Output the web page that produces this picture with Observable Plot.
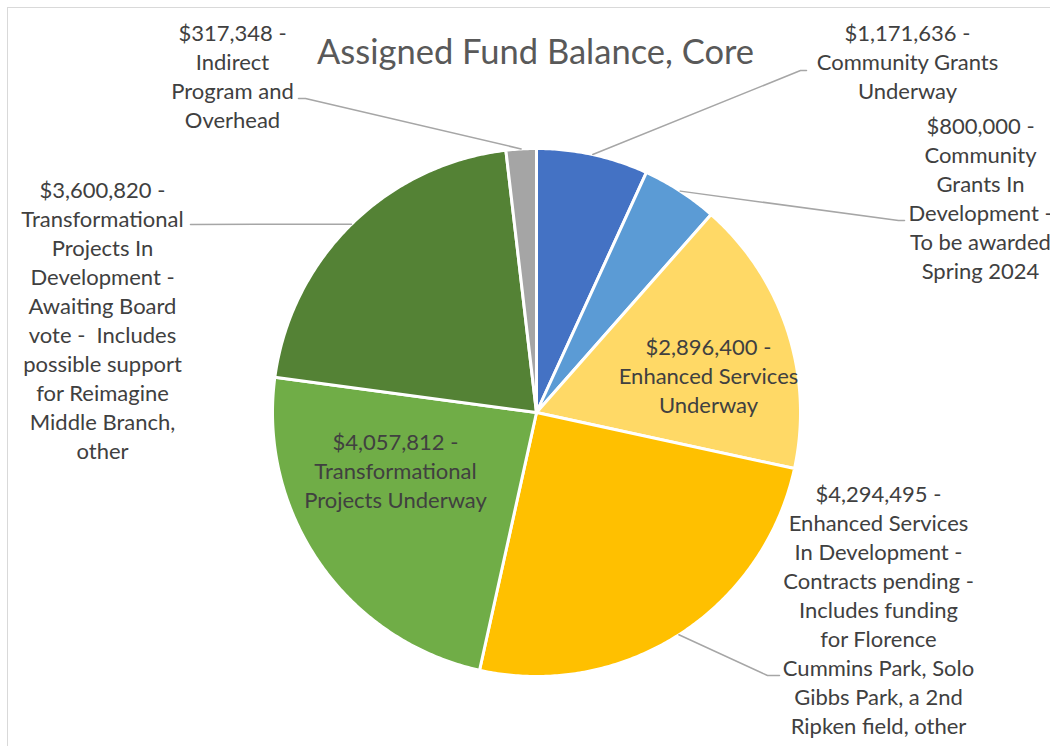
<!DOCTYPE html>
<html><head><meta charset="utf-8">
<script src="https://cdn.jsdelivr.net/npm/d3@7"></script>
<script src="https://cdn.jsdelivr.net/npm/@observablehq/plot@0.6"></script>
<style>
html,body{margin:0;padding:0;background:#fff;overflow:hidden}
#frame{position:absolute;left:7px;top:7px;width:1100px;height:800px;border:1.5px solid #d9d9d9;box-sizing:border-box}
#chart{position:absolute;left:0;top:0}
</style></head><body>
<div id="frame"></div><div id="chart"></div>
<script>
// ---- data ----
const title = "Assigned Fund Balance, Core";
const categories = [
  "Community Grants\nUnderway",
  "Community\nGrants In\nDevelopment -\nTo be awarded\nSpring 2024",
  "Enhanced Services\nUnderway",
  "Enhanced Services\nIn Development -\nContracts pending -\nIncludes funding\nfor Florence\nCummins Park, Solo\nGibbs Park, a 2nd\nRipken field, other",
  "Transformational\nProjects Underway",
  "Transformational\nProjects In\nDevelopment -\nAwaiting Board\nvote -  Includes\npossible support\nfor Reimagine\nMiddle Branch,\nother",
  "Indirect\nProgram and\nOverhead"
];
const values = [1171636, 800000, 2896400, 4294495, 4057812, 3600820, 317348];
const colors = ["#4472C4", "#5B9BD5", "#FFD966", "#FFC000", "#70AD47", "#548235", "#A5A5A5"];

// ---- layout ----
const W = 1050, H = 746;
const cx = 536, cy = 412, R = 264;
const FONT = "Lato, 'Open Sans', sans-serif";
const FS = 22, LH = 29;
const labelPos = [[907, 60], [980, 197], [708, 374], [878, 608], [395, 469], [102, 319], [232, 74.5]];
const leaderPts = [
  [[800, 70], [806, 70]],
  [[898, 220], [904, 220]],
  null,
  [[767, 675], [779, 675]],
  null,
  [[190, 224]],
  [[305, 98], [298, 98]]
];

const fmt = d3.format("$,");
const arcs = d3.pie().sort(null).value(d => d)(values);
const pt = (a, r) => [cx + r * Math.sin(a), cy - r * Math.cos(a)];

const polys = [];
arcs.forEach((a, i) => {
  polys.push({i, x: cx, y: cy, c: colors[i]});
  const n = Math.max(2, Math.ceil((a.endAngle - a.startAngle) / (Math.PI / 360)));
  for (let k = 0; k <= n; k++) {
    const ang = a.startAngle + (a.endAngle - a.startAngle) * k / n;
    const [x, y] = pt(ang, R);
    polys.push({i, x, y, c: colors[i]});
  }
  polys.push({i, x: cx, y: cy, c: colors[i]});
});

const leaders = [];
arcs.forEach((a, i) => {
  if (!leaderPts[i]) return;
  const [x, y] = pt((a.startAngle + a.endAngle) / 2, R);
  leaders.push({i, x, y});
  leaderPts[i].forEach(([px, py]) => leaders.push({i, x: px, y: py}));
});

const labels = values.map((v, i) => ({
  x: labelPos[i][0], y: labelPos[i][1],
  text: `${fmt(v)} -\n${categories[i]}`
}));

const chart = Plot.plot({
  width: W, height: H,
  margin: 0,
  x: {type: "identity", axis: null},
  y: {type: "identity", axis: null},
  color: {type: "identity"},
  style: {background: "transparent", overflow: "visible"},
  marks: [
    Plot.line(polys, {x: "x", y: "y", z: "i", fill: "c", stroke: "white", strokeWidth: 3, strokeLinejoin: "round", curve: "linear"}),
    Plot.line(leaders, {x: "x", y: "y", z: "i", stroke: "#A6A6A6", strokeWidth: 1.5}),
    Plot.text(labels, {x: "x", y: "y", text: "text", fontSize: FS, lineHeight: LH / FS, fill: "#404040", fontFamily: FONT, textAnchor: "middle"}),
    Plot.text([title], {x: () => 535, y: () => 52, text: d => d, fontSize: 34.5, fill: "#595959", fontFamily: FONT, textAnchor: "middle"})
  ]
});
document.getElementById("chart").appendChild(chart);
</script>
</body></html>
